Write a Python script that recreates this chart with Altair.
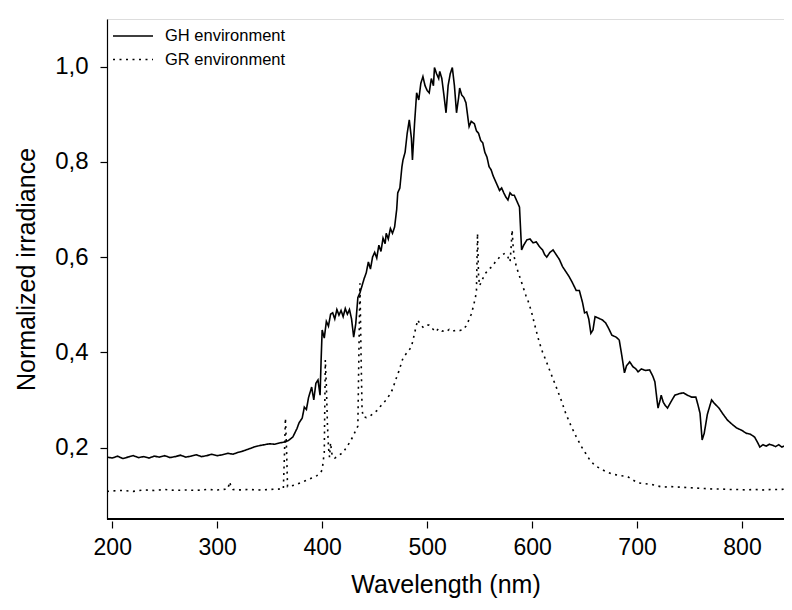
import altair as alt
import pandas as pd

# GH environment (solid line)
gh_nm = [195, 200, 205, 210, 215, 220, 225, 230, 235, 240, 245, 250, 255, 260, 265, 270, 275, 280, 285, 290,
         295, 300, 305, 310, 315, 320, 325, 330, 335, 340, 345, 350, 355, 360, 365, 368, 372, 376, 378, 381,
         383, 385, 387, 390, 392, 394, 396, 398, 399, 400, 402, 404, 406, 408, 410, 412, 414, 416, 418, 420,
         422, 424, 426, 428, 430, 432, 434, 436, 438, 440, 442, 444, 446, 448, 450, 452, 454, 456, 458, 460,
         461, 463, 465, 467, 469, 471, 472, 474, 476, 477, 479, 481, 483, 485, 486, 488, 490, 492, 494, 496,
         498, 500, 502, 504, 506, 507, 509, 511, 512, 514, 516, 518, 520, 522, 524, 526, 528, 530, 531, 533,
         535, 537, 539, 540, 542, 545, 547, 549, 551, 553, 555, 557, 559, 561, 563, 565, 567, 569, 571, 573,
         575, 577, 579, 581, 583, 585, 587, 588, 589, 590, 592, 595, 598, 601, 604, 607, 610, 612, 614, 617,
         620, 623, 626, 629, 632, 635, 638, 642, 645, 648, 650, 652, 654, 656, 658, 660, 663, 667, 670, 673,
         676, 680, 683, 685, 688, 690, 693, 696, 699, 701, 704, 708, 712, 715, 717, 719, 720, 722, 723, 725,
         727, 729, 732, 736, 740, 744, 748, 752, 756, 758, 760, 762, 764, 767, 771, 774, 778, 782, 786, 790,
         795, 800, 804, 808, 812, 815, 817, 820, 823, 826, 829, 832, 835, 838, 841, 845, 848]
gh_val = [0.180, 0.178, 0.182, 0.177, 0.180, 0.183, 0.179, 0.181, 0.178, 0.182, 0.180, 0.183, 0.179, 0.181, 0.184, 0.180, 0.182, 0.185, 0.181, 0.183,
          0.186, 0.183, 0.185, 0.188, 0.186, 0.190, 0.193, 0.197, 0.201, 0.204, 0.206, 0.208, 0.207, 0.210, 0.212, 0.215, 0.222, 0.240, 0.252, 0.262,
          0.285, 0.280, 0.305, 0.327, 0.300, 0.335, 0.342, 0.310, 0.384, 0.447, 0.430, 0.465, 0.455, 0.480, 0.483, 0.470, 0.490, 0.478, 0.488, 0.475,
          0.492, 0.480, 0.490, 0.470, 0.432, 0.460, 0.515, 0.525, 0.540, 0.555, 0.567, 0.590, 0.575, 0.600, 0.610, 0.598, 0.625, 0.612, 0.640, 0.628,
          0.650, 0.638, 0.660, 0.650, 0.663, 0.700, 0.735, 0.745, 0.790, 0.804, 0.820, 0.860, 0.888, 0.850, 0.804, 0.880, 0.945, 0.930, 0.965, 0.979,
          0.960, 0.950, 0.945, 0.975, 0.960, 0.998, 0.985, 0.975, 0.990, 0.975, 0.940, 0.903, 0.960, 0.985, 0.998, 0.960, 0.903, 0.935, 0.955, 0.940,
          0.935, 0.924, 0.890, 0.874, 0.885, 0.880, 0.865, 0.860, 0.845, 0.840, 0.820, 0.810, 0.790, 0.783, 0.770, 0.760, 0.750, 0.740, 0.745, 0.735,
          0.726, 0.720, 0.735, 0.730, 0.730, 0.720, 0.710, 0.705, 0.660, 0.615, 0.625, 0.636, 0.638, 0.630, 0.632, 0.622, 0.615, 0.605, 0.600, 0.610,
          0.615, 0.605, 0.595, 0.580, 0.570, 0.560, 0.548, 0.530, 0.530, 0.505, 0.483, 0.485, 0.470, 0.440, 0.447, 0.475, 0.472, 0.468, 0.462, 0.450,
          0.436, 0.432, 0.426, 0.400, 0.357, 0.372, 0.380, 0.370, 0.365, 0.359, 0.365, 0.362, 0.363, 0.350, 0.338, 0.300, 0.283, 0.300, 0.310, 0.295,
          0.288, 0.283, 0.295, 0.310, 0.313, 0.315, 0.310, 0.306, 0.306, 0.290, 0.272, 0.216, 0.230, 0.270, 0.300, 0.292, 0.283, 0.270, 0.258, 0.250,
          0.241, 0.236, 0.230, 0.228, 0.222, 0.210, 0.201, 0.206, 0.203, 0.207, 0.205, 0.202, 0.206, 0.201, 0.204, 0.201, 0.203]

# GR environment (dotted line)
gr_nm = [195, 200, 210, 220, 230, 240, 250, 260, 270, 280, 290, 300, 305, 310, 312, 313, 315, 320, 330, 340,
         350, 360, 363, 364, 365, 366, 367, 370, 375, 380, 385, 390, 395, 398, 400, 402, 403, 404, 405, 406,
         407, 408, 409, 410, 412, 415, 420, 423, 426, 429, 432, 434, 435, 436, 437, 438, 439, 442, 445, 449,
         453, 456, 458, 461, 464, 467, 470, 473, 477, 481, 485, 488, 491, 493, 496, 499, 502, 505, 508, 511,
         514, 518, 521, 524, 528, 531, 534, 537, 539, 542, 544, 546, 547, 548, 549, 550, 553, 556, 559, 562,
         565, 569, 572, 574, 577, 579, 580, 581, 582, 583, 585, 588, 591, 594, 597, 600, 602, 604, 607, 610,
         613, 618, 623, 628, 632, 637, 642, 647, 651, 655, 660, 664, 670, 677, 684, 691, 696, 701, 708, 715,
         724, 732, 740, 748, 756, 764, 772, 780, 788, 796, 804, 812, 820, 828, 836, 845, 848]
gr_val = [0.108, 0.109, 0.110, 0.108, 0.111, 0.110, 0.112, 0.110, 0.111, 0.110, 0.112, 0.111, 0.112, 0.113, 0.128, 0.118, 0.112, 0.111, 0.112, 0.111,
          0.112, 0.113, 0.113, 0.180, 0.262, 0.200, 0.118, 0.119, 0.122, 0.127, 0.131, 0.136, 0.141, 0.146, 0.153, 0.190, 0.384, 0.330, 0.250, 0.200,
          0.180, 0.210, 0.190, 0.180, 0.178, 0.182, 0.190, 0.200, 0.210, 0.222, 0.236, 0.245, 0.400, 0.545, 0.400, 0.280, 0.265, 0.263, 0.265, 0.272,
          0.279, 0.288, 0.293, 0.300, 0.310, 0.322, 0.342, 0.360, 0.388, 0.400, 0.411, 0.440, 0.468, 0.460, 0.453, 0.458, 0.457, 0.450, 0.443, 0.450,
          0.445, 0.443, 0.448, 0.444, 0.447, 0.446, 0.447, 0.455, 0.464, 0.480, 0.496, 0.515, 0.530, 0.650, 0.560, 0.540, 0.555, 0.567, 0.575, 0.580,
          0.590, 0.600, 0.605, 0.608, 0.600, 0.590, 0.620, 0.657, 0.620, 0.600, 0.580, 0.560, 0.540, 0.520, 0.503, 0.480, 0.462, 0.445, 0.420, 0.400,
          0.384, 0.355, 0.327, 0.298, 0.272, 0.246, 0.223, 0.202, 0.188, 0.174, 0.162, 0.157, 0.150, 0.144, 0.141, 0.139, 0.132, 0.126, 0.124, 0.122,
          0.117, 0.118, 0.117, 0.116, 0.115, 0.114, 0.113, 0.113, 0.112, 0.112, 0.111, 0.112, 0.111, 0.112, 0.112, 0.113, 0.112]

series_names = ["GH environment", "GR environment"]
x_ticks = [200, 300, 400, 500, 600, 700, 800]
y_ticks = [0.2, 0.4, 0.6, 0.8, 1.0]

df = pd.concat([
    pd.DataFrame({"nm": gh_nm, "val": gh_val, "series": series_names[0]}),
    pd.DataFrame({"nm": gr_nm, "val": gr_val, "series": series_names[1]}),
])

FONT = "Liberation Sans"

lines = alt.Chart(df).mark_line(color="black", strokeWidth=1.6, clip=True, strokeCap="butt").encode(
    x=alt.X("nm:Q",
            scale=alt.Scale(domain=[195, 840], nice=False, zero=False),
            axis=alt.Axis(values=x_ticks, format="d", title="Wavelength (nm)",
                          domain=False, offset=2, tickSize=7, tickColor="black", tickWidth=1.2,
                          labelFontSize=23, labelColor="black", labelFont=FONT, labelPadding=8,
                          titleFontSize=25, titleFontWeight="normal", titleFont=FONT, titleColor="black",
                          titleY=71, titleBaseline="alphabetic", grid=False)),
    y=alt.Y("val:Q",
            scale=alt.Scale(domain=[0.05, 1.1], nice=False, zero=False),
            axis=alt.Axis(values=y_ticks, labelExpr="replace(format(datum.value, '.1f'), '.', ',')",
                          title="Normalized irradiance", domainColor="black", domainWidth=1.2,
                          tickSize=7, tickColor="black", tickWidth=1.2,
                          labelFontSize=24, labelColor="black", labelFont=FONT, labelPadding=12,
                          titleFontSize=25, titleFontWeight="normal", titleFont=FONT, titleColor="black",
                          titleX=-73, titleY=250, titleBaseline="alphabetic", titleAlign="center",
                          titleAngle=270, grid=False)),
    strokeDash=alt.StrokeDash("series:N",
                              scale=alt.Scale(domain=series_names, range=[[1, 0], [2, 4.5]]),
                              legend=alt.Legend(title=None, orient="none", legendX=15, legendY=6,
                                                symbolType="M-2,0L2,0", symbolSize=400, symbolStrokeWidth=1.6,
                                                symbolStrokeColor="black", labelFontSize=16.5, labelFont=FONT,
                                                labelColor="black", labelOffset=21, rowPadding=3.5, padding=0)),
    order="nm:Q",
)

baseline = alt.Chart(df).mark_rule(color="black", strokeWidth=1.2).encode(y=alt.datum(0.05))

chart = alt.layer(lines, baseline).properties(
    width=677, height=500,
    autosize=alt.AutoSizeParams(type="none"),
    padding={"left": 99, "top": 11, "right": 0, "bottom": 79},
).configure_view(stroke=None).configure(background="white")

chart.save("out.html", embed_options={"renderer": "svg", "actions": False})
